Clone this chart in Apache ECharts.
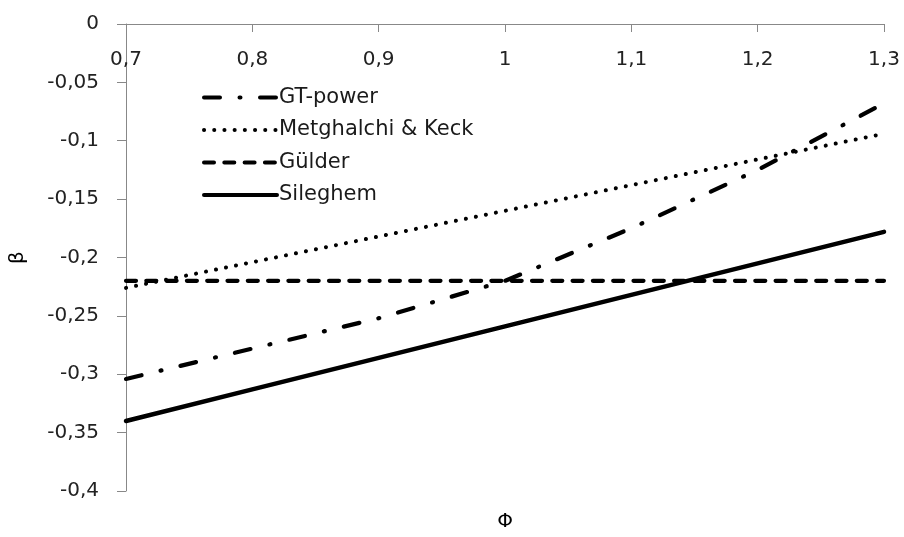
<!DOCTYPE html>
<html>
<head>
<meta charset="utf-8">
<script src="https://cdn.jsdelivr.net/npm/echarts@6/dist/echarts.min.js"></script>
<style>
  html, body { margin: 0; padding: 0; background: #fff; }
  #chart { width: 904px; height: 537px; }
</style>
</head>
<body>
<div id="chart"></div>
<script>
// Equivalence ratio grid shared by all correlations
const phi = [0.7, 0.8, 0.9, 1.0, 1.1, 1.2, 1.3];

// Temperature exponent beta for each correlation
const gtPower    = [-0.304, -0.278, -0.252, -0.220, -0.175, -0.125, -0.068];
const metghalchi = [-0.226, -0.204, -0.182, -0.160, -0.138, -0.116, -0.094];
const gulder     = [-0.220, -0.220, -0.220, -0.220, -0.220, -0.220, -0.220];
const sileghem   = [-0.340, -0.313, -0.286, -0.259, -0.232, -0.205, -0.178];

const seriesNames = ['GT-power', 'Metghalchi & Keck', 'Gülder', 'Sileghem'];

const FONT = 'DejaVu Sans';
const decimalComma = v => {
  const r = Math.round(v * 100) / 100;
  return (r === 0 ? '0' : String(r)).replace('.', ',');
};
const pairs = ys => phi.map((x, i) => [x, ys[i]]);

const lineSeries = (name, ys, width, dash) => ({
  name,
  type: 'line',
  data: pairs(ys),
  symbol: 'none',
  showSymbol: false,
  silent: true,
  animation: false,
  itemStyle: { color: '#000' },
  lineStyle: { color: '#000', width, type: dash, cap: 'round' }
});

const chart = echarts.init(document.getElementById('chart'), null, { renderer: 'canvas' });
chart.setOption({
  backgroundColor: '#fff',
  animation: false,
  grid: { left: 125, right: 20, top: 24, bottom: 35 },
  legend: {
    orient: 'vertical',
    left: 202,
    top: 87,
    itemWidth: 73,
    itemHeight: 14,
    itemGap: 11.5,
    padding: 0,
    selectedMode: false,
    // keep only the line sample in each legend entry
    itemStyle: { opacity: 0 },
    lineStyle: { width: 4, cap: 'round' },
    textStyle: { fontFamily: FONT, fontSize: 21, color: '#1a1a1a', padding: [0, 0, 0, -3] },
    data: seriesNames
  },
  xAxis: [{
    type: 'value',
    position: 'top',
    min: 0.7,
    max: 1.3,
    interval: 0.1,
    axisLine: { show: true, onZero: false, lineStyle: { color: '#888', width: 1 } },
    axisTick: { show: true, inside: true, length: 8, lineStyle: { color: '#888' } },
    axisLabel: {
      inside: true, margin: 26, formatter: decimalComma,
      fontFamily: FONT, fontSize: 20, color: '#222'
    },
    splitLine: { show: false }
  }, {
    type: 'value',
    position: 'bottom',
    min: 0.7,
    max: 1.3,
    name: 'Φ',
    nameLocation: 'middle',
    nameGap: 21,
    nameTextStyle: { fontFamily: FONT, fontSize: 20, color: '#000' },
    axisLine: { show: false },
    axisTick: { show: false },
    axisLabel: { show: false },
    splitLine: { show: false }
  }],
  yAxis: {
    type: 'value',
    min: -0.4,
    max: 0,
    interval: 0.05,
    name: 'β',
    nameLocation: 'middle',
    nameGap: 98,
    nameRotate: 90,
    nameTextStyle: { fontFamily: FONT, fontSize: 20, color: '#000' },
    axisLine: { show: true, onZero: false, lineStyle: { color: '#888', width: 1 } },
    axisTick: { show: true, inside: false, length: 9, lineStyle: { color: '#888' } },
    axisLabel: {
      margin: 27, formatter: decimalComma,
      fontFamily: FONT, fontSize: 20, color: '#222'
    },
    splitLine: { show: false }
  },
  series: [
    lineSeries(seriesNames[0], gtPower, 4.2, [16, 19.5, 1, 19.5]),
    lineSeries(seriesNames[1], metghalchi, 4, [0.1, 10.1]),
    lineSeries(seriesNames[2], gulder, 4.2, [10, 10.3]),
    lineSeries(seriesNames[3], sileghem, 4.5, 'solid')
  ]
});
</script>
</body>
</html>
